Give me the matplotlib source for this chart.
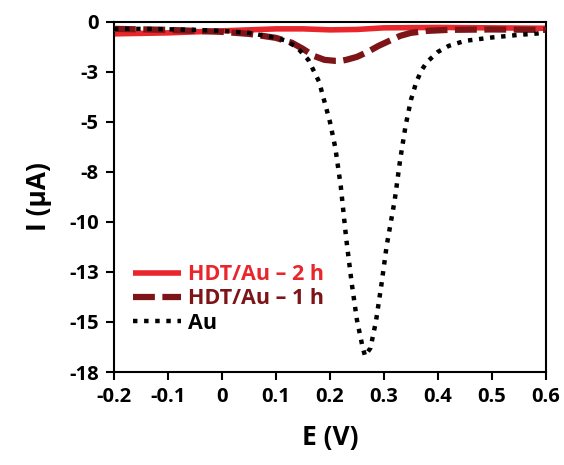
import matplotlib
matplotlib.use("Agg")
import matplotlib.pyplot as plt

plt.rcParams['font.family'] = ['Open Sans', 'DejaVu Sans']

# ---- data ----
e_2h = [-0.2, -0.1, 0.0, 0.1, 0.15, 0.2, 0.25, 0.3, 0.4, 0.5, 0.6]
i_2h = [-0.6, -0.55, -0.45, -0.35, -0.35, -0.4, -0.38, -0.3, -0.28, -0.3, -0.32]

e_1h = [-0.2, -0.1, 0.0, 0.05, 0.1, 0.13, 0.15, 0.17, 0.19, 0.21, 0.22,
        0.23, 0.25, 0.27, 0.29, 0.31, 0.33, 0.35, 0.38, 0.42, 0.5, 0.6]
i_1h = [-0.35, -0.4, -0.5, -0.6, -0.8, -1.05, -1.35, -1.7, -1.9, -1.95, -1.95,
        -1.9, -1.75, -1.5, -1.2, -0.95, -0.7, -0.55, -0.45, -0.4, -0.38, -0.4]

e_au = [-0.2, -0.15, -0.1, -0.05, 0.0, 0.05, 0.08, 0.1, 0.12, 0.14, 0.16, 0.18,
        0.2, 0.21, 0.22, 0.23, 0.24, 0.25, 0.26, 0.265, 0.275, 0.285, 0.295, 0.305,
        0.32, 0.33, 0.34, 0.35, 0.36, 0.37, 0.38, 0.39, 0.4, 0.42, 0.45, 0.5, 0.55, 0.6]
i_au = [-0.35, -0.35, -0.37, -0.4, -0.45, -0.55, -0.7, -0.8, -0.95, -1.3, -1.9, -3.0,
        -5.0, -6.3, -8.2, -10.8, -13.0, -14.9, -16.2, -16.7, -16.3, -15.0, -13.2, -11.2,
        -8.9, -6.9, -5.2, -3.9, -3.0, -2.4, -2.0, -1.75, -1.5, -1.2, -0.95, -0.78, -0.65, -0.55]

x_ticks = [-0.2, -0.1, 0, 0.1, 0.2, 0.3, 0.4, 0.5, 0.6]
x_labels = ['-0.2', '-0.1', '0', '0.1', '0.2', '0.3', '0.4', '0.5', '0.6']
y_ticks = [0, -2.5, -5, -7.5, -10, -12.5, -15, -17.5]
y_labels = ['0', '-3', '-5', '-8', '-10', '-13', '-15', '-18']

RED = '#e8262c'
DARK_RED = '#7d1518'

fig = plt.figure(figsize=(5.64, 4.65), dpi=100)
ax = fig.add_axes([0.202, 0.2, 0.766, 0.753])

ax.plot(e_2h, i_2h, color=RED, lw=4, solid_capstyle='butt', label='HDT/Au – 2 h', zorder=2)
ax.plot(e_1h, i_1h, color=DARK_RED, lw=4.5, dashes=(3.5, 1.2), dash_capstyle='butt',
        label='HDT/Au – 1 h', zorder=3)
ax.plot(e_au, i_au, color='black', lw=3.2, dashes=(1, 1.5), dash_capstyle='butt',
        label='Au', zorder=4)

ax.set_xlim(-0.2, 0.6)
ax.set_ylim(-17.5, 0)
ax.set_xticks(x_ticks)
ax.set_xticklabels(x_labels)
ax.set_yticks(y_ticks)
ax.set_yticklabels(y_labels)

for sp in ax.spines.values():
    sp.set_linewidth(1.5)
ax.tick_params(direction='out', length=6, width=1.5, labelsize=14.5, pad=5)
for lab in ax.get_xticklabels() + ax.get_yticklabels():
    lab.set_fontweight('bold')

ax.set_xlabel('E (V)', fontsize=19, fontweight='bold', labelpad=12)
ax.set_ylabel('I (µA)', fontsize=19, fontweight='bold', labelpad=12)

leg = ax.legend(loc='lower left', bbox_to_anchor=(0.025, 0.085), frameon=False,
                handlelength=2.2, handletextpad=0.35, labelspacing=0.15,
                borderaxespad=0, prop={'size': 15.5, 'weight': 'bold'})
for txt, c in zip(leg.get_texts(), [RED, DARK_RED, 'black']):
    txt.set_color(c)

fig.savefig('out.png', dpi=100)
